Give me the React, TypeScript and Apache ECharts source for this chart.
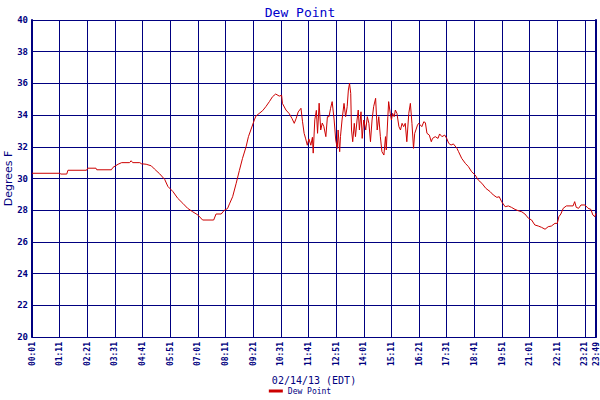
import * as echarts from "echarts";
import React, { useEffect, useRef } from "react";

// minutes after 00:01, dew point in °F
const dewPointReadings: [number, number][] = [
  [0, 30.33], [71, 30.33], [73, 30.28], [88, 30.28], [91, 30.52], [138, 30.52], [141, 30.65], [162, 30.65],
  [164, 30.55], [201, 30.55], [205, 30.7], [218, 30.9], [227, 31.0], [247, 31.0], [251, 31.12], [255, 31.0],
  [273, 31.0], [277, 30.93], [289, 30.9], [302, 30.8], [310, 30.6], [323, 30.3], [336, 29.94], [344, 29.5],
  [357, 29.17], [369, 28.75], [382, 28.43], [394, 28.12], [407, 27.9], [420, 27.7], [432, 27.38], [460, 27.38],
  [466, 27.76], [479, 27.76], [487, 28.0], [495, 28.1], [500, 28.4], [508, 28.85], [517, 29.7], [525, 30.5],
  [533, 31.27], [542, 32.0], [548, 32.64], [554, 33.06], [563, 33.7], [567, 33.94], [575, 34.1], [584, 34.28],
  [592, 34.53], [601, 34.85], [609, 35.16], [617, 35.33], [626, 35.2], [632, 35.25], [634, 34.74], [643, 34.32],
  [651, 34.1], [658, 33.8], [664, 33.48], [669, 33.8], [674, 34.2], [681, 34.43], [685, 33.58], [689, 32.85],
  [693, 32.5], [697, 32.1], [701, 32.5], [706, 32.1], [710, 32.6], [712, 31.6], [716, 33.7], [720, 34.3],
  [723, 32.85], [727, 34.75], [731, 33.06], [735, 33.5], [739, 33.27], [744, 32.64], [748, 33.9],
  [752, 33.9], [756, 34.43], [760, 34.85], [765, 33.69], [769, 32.43], [773, 31.9], [775, 33.06], [779, 31.69],
  [781, 32.64], [785, 33.69], [790, 34.74], [794, 33.9], [798, 34.53], [801, 35.58], [804, 36.0], [807, 35.37],
  [809, 33.06], [812, 32.32], [816, 33.48], [819, 32.64], [823, 33.69], [826, 34.32], [829, 33.06], [833, 34.21],
  [836, 32.53], [840, 33.69], [845, 33.06], [849, 33.9], [853, 33.48], [857, 32.32], [861, 33.69], [865, 34.53],
  [870, 35.06], [874, 33.06], [878, 33.9], [882, 32.64], [886, 31.69], [891, 31.48], [895, 32.64], [897, 31.8],
  [901, 33.9], [903, 34.85], [907, 34.11], [910, 33.69], [913, 34.11], [917, 33.9], [920, 34.32], [924, 34.11],
  [929, 33.27], [933, 33.06], [937, 33.48], [941, 33.27], [945, 33.48], [949, 32.32], [954, 34.11], [958, 34.74],
  [962, 33.48], [966, 31.9], [969, 32.85], [972, 33.06], [976, 33.37], [979, 33.48],
  [983, 33.38], [987, 33.27], [992, 33.58], [996, 33.52], [1000, 32.85], [1006, 32.74], [1011, 32.32], [1014, 32.53],
  [1021, 32.64], [1028, 32.53], [1032, 32.81], [1038, 32.64], [1045, 32.74], [1050, 32.53], [1055, 32.22], [1061, 32.11],
  [1067, 32.18], [1076, 31.9], [1080, 31.69], [1088, 31.27], [1097, 30.96], [1105, 30.75], [1113, 30.43], [1122, 30.22],
  [1130, 29.9], [1139, 29.7], [1149, 29.38], [1160, 29.17], [1168, 28.96], [1177, 28.81], [1183, 28.85], [1189, 28.54],
  [1198, 28.22], [1206, 28.27], [1214, 28.18], [1223, 28.05], [1231, 27.97], [1240, 27.9], [1248, 27.76], [1257, 27.49],
  [1265, 27.38], [1273, 27.07], [1282, 27.0], [1290, 26.92], [1299, 26.8], [1307, 26.96], [1315, 27.0], [1324, 27.17],
  [1330, 27.17], [1334, 27.59], [1339, 27.76], [1345, 28.12], [1353, 28.27], [1370, 28.27], [1374, 28.54], [1378, 28.18],
  [1384, 28.12], [1390, 28.33], [1400, 28.33], [1408, 28.12], [1415, 28.05], [1420, 27.7], [1425, 27.59], [1428, 27.8],
];

const startMinute = 1; // 00:01
const endOffset = 1428; // 23:49
const tickStep = 70;

const navy = "#000080";
const mono = "'DejaVu Sans Mono', monospace";

function clockLabel(offset: number) {
  const t = Math.round(offset) + startMinute;
  const hh = Math.floor(t / 60) % 24;
  const mm = t % 60;
  return String(hh).padStart(2, "0") + ":" + String(mm).padStart(2, "0");
}

export default function App() {
  const chartRef = useRef<HTMLDivElement>(null);

  useEffect(() => {
    if (!chartRef.current) return;
    const chart = echarts.init(chartRef.current, undefined, { renderer: "svg" });
    chart.setOption({
      animation: false,
      backgroundColor: "#ffffff",
      title: {
        text: "Dew Point",
        left: "center",
        top: 1,
        textStyle: { fontFamily: mono, fontSize: 13, fontWeight: "normal", color: "#0000cc" },
      },
      legend: {
        bottom: 0,
        left: "center",
        icon: "rect",
        itemWidth: 14,
        itemHeight: 3,
        itemGap: 4,
        textStyle: { fontFamily: mono, fontSize: 8, color: navy },
        data: ["Dew Point"],
      },
      grid: { left: 32, right: 4, top: 20, bottom: 63, outerBoundsMode: "none", containLabel: false },
      xAxis: {
        type: "value",
        min: 0,
        max: endOffset,
        interval: tickStep,
        name: "02/14/13 (EDT)",
        nameLocation: "middle",
        nameGap: 38,
        nameMoveOverlap: false,
        nameTextStyle: { fontFamily: mono, fontSize: 10, color: navy },
        axisLine: { lineStyle: { color: navy, width: 1 } },
        axisTick: { show: false },
        axisLabel: {
          rotate: 90,
          margin: 5,
          showMaxLabel: true,
          showMinLabel: true,
          fontFamily: mono,
          fontSize: 8,
          fontWeight: "bold",
          color: navy,
          formatter: (v: number) => clockLabel(v),
        },
        splitLine: { show: true, lineStyle: { color: navy, width: 1 } },
      },
      yAxis: [
        {
          type: "value",
          min: 20,
          max: 40,
          interval: 2,
          name: "Degrees F",
          nameLocation: "middle",
          nameGap: 18,
          nameMoveOverlap: false,
          nameTextStyle: { fontFamily: "'DejaVu Sans', sans-serif", fontSize: 11, color: navy },
          axisLine: { show: true, lineStyle: { color: navy, width: 2 } },
          axisTick: { show: false },
          axisLabel: { margin: 4, fontFamily: mono, fontSize: 9, fontWeight: "bold", color: navy },
          splitLine: { show: true, lineStyle: { color: navy, width: 1 } },
        },
        {
          type: "value",
          min: 20,
          max: 40,
          position: "right",
          axisLine: { show: true, lineStyle: { color: navy, width: 2 } },
          axisTick: { show: false },
          axisLabel: { show: false },
          splitLine: { show: false },
        },
      ],
      series: [
        {
          name: "Dew Point",
          type: "line",
          yAxisIndex: 0,
          data: dewPointReadings,
          showSymbol: false,
          symbol: "none",
          lineStyle: { color: "#cc0000", width: 1 },
          itemStyle: { color: "#cc0000" },
        },
      ],
    });
    return () => {
      chart.dispose();
    };
  }, []);

  return (
    <div
      ref={chartRef}
      style={{ position: "absolute", left: 0, top: 0, width: "600px", height: "400px" }}
    ></div>
  );
}
